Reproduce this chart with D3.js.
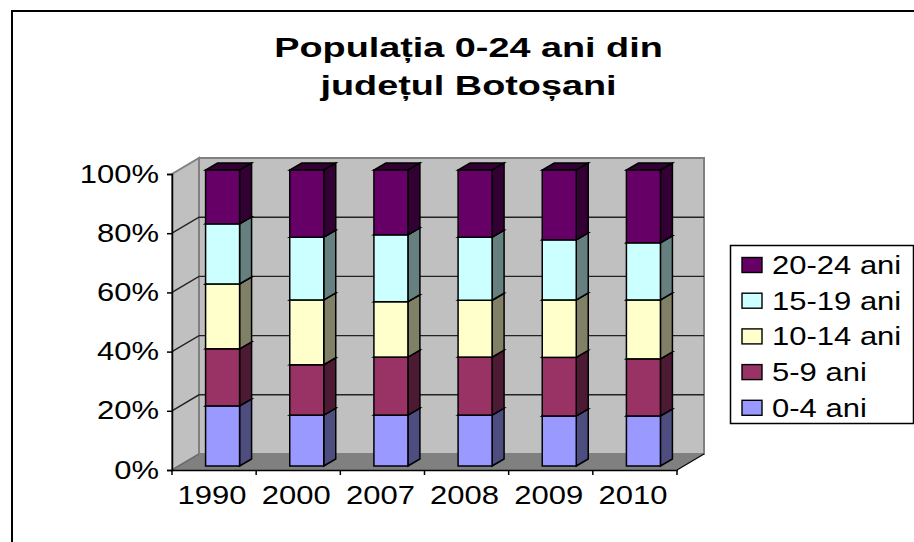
<!DOCTYPE html>
<html>
<head>
<meta charset="utf-8" />
<title>Populatia 0-24 ani</title>
<style>
  html, body { margin: 0; padding: 0; background: #fff; }
  svg { display: block; }
  text { font-family: "Liberation Sans", Arial, sans-serif; fill: #000; }
</style>
</head>
<body>
<div id="wrapper"></div>
<script src="https://d3js.org/d3.v7.min.js"></script>
<script>
const width = 914
const height = 542

const years = ["1990", "2000", "2007", "2008", "2009", "2010"]
const seriesNames = ["0-4 ani", "5-9 ani", "10-14 ani", "15-19 ani", "20-24 ani"]
const seriesColors = ["#9999ff", "#993366", "#ffffcc", "#ccffff", "#660066"]
const sideColors = ["#4d4d80", "#4d1a33", "#808066", "#668080", "#330033"]
const titleLines = ["Populația 0-24 ani din", "județul Botoșani"]
const percentTicks = [0, 20, 40, 60, 80, 100]

// share of each age group
const age0_4 = [20.3, 17.2, 17.2, 17.2, 16.9, 16.9]
const age5_9 = [19.3, 17.0, 19.6, 19.6, 19.8, 19.3]
const age10_14 = [21.9, 21.9, 18.7, 19.2, 19.4, 19.9]
const age15_19 = [20.3, 21.2, 22.6, 21.3, 20.3, 19.3]
const age20_24 = [18.2, 22.7, 21.9, 22.7, 23.6, 24.6]
const allSeries = [age0_4, age5_9, age10_14, age15_19, age20_24]

const table = years.map((y, i) => {
  const row = { year: y }
  seriesNames.forEach((s, j) => { row[s] = allSeries[j][i] })
  return row
})

const svg = d3.select("#wrapper").append("svg")
  .attr("width", width)
  .attr("height", height)

// the source picture is stretched sideways, so the text is too
const textStretch = 1.24
const textSize = 25

// outer chart frame, open at the right and bottom like the crop
svg.append("path")
  .attr("d", "M12,542V11H914")
  .attr("fill", "none")
  .attr("stroke", "#000")
  .attr("stroke-width", 2)

const title = svg.append("text")
  .attr("transform", "translate(468.5,0) scale(1.35,1)")
  .attr("text-anchor", "middle")
  .attr("font-weight", "bold")
  .attr("font-size", 28)
titleLines.forEach((t, i) => {
  title.append("tspan").attr("x", 0).attr("y", 57 + i * 38).text(t)
})

// plot geometry
const x = d3.scaleBand().domain(years).range([172, 677])
const y = d3.scaleLinear().domain([0, 100]).range([470, 174])
const wallDx = 27, wallDy = -16   // depth of the walls
const barDx = 12, barDy = -7      // depth of the bars
const barShiftX = 8.5, barShiftY = -4
const barWidth = 34

const poly = pts => pts.map(p => p.join(",")).join(" ")
const x0 = x.range()[0], x1 = x.range()[1]
const y0 = y(0), y100 = y(100)

// left wall, back wall and floor
svg.append("polygon")
  .attr("points", poly([[x0, y0], [x0 + wallDx, y0 + wallDy], [x0 + wallDx, y100 + wallDy], [x0, y100]]))
  .attr("fill", "#c0c0c0").attr("stroke", "#808080").attr("stroke-width", 2)
svg.append("polygon")
  .attr("points", poly([[x0 + wallDx, y0 + wallDy], [x1 + wallDx, y0 + wallDy], [x1 + wallDx, y100 + wallDy], [x0 + wallDx, y100 + wallDy]]))
  .attr("fill", "#c0c0c0").attr("stroke", "#808080").attr("stroke-width", 2)
svg.append("polygon")
  .attr("points", poly([[x0, y0], [x1, y0], [x1 + wallDx, y0 + wallDy], [x0 + wallDx, y0 + wallDy]]))
  .attr("fill", "#808080")

// gridlines run along the left wall then across the back
svg.append("g").selectAll("path")
  .data(percentTicks.slice(1, -1))
  .join("path")
  .attr("d", d => `M${x0},${y(d)}L${x0 + wallDx},${y(d) + wallDy}H${x1 + wallDx}`)
  .attr("fill", "none")
  .attr("stroke", "#222")
  .attr("stroke-width", 1.4)

// edges of the floor
svg.append("path")
  .attr("d", `M${x0},${y0}L${x0 + wallDx},${y0 + wallDy}`)
  .attr("stroke", "#666").attr("stroke-width", 1.2)
svg.append("path")
  .attr("d", `M${x1},${y0}L${x1 + wallDx},${y0 + wallDy}`)
  .attr("stroke", "#000").attr("stroke-width", 1.2)

// stacked bars
const stack = d3.stack().keys(seriesNames)
const layers = stack(table)

const barGroups = svg.append("g").selectAll("g")
  .data(layers)
  .join("g")

barGroups.each(function (layer, j) {
  const g = d3.select(this)
  layer.forEach(seg => {
    const left = x(seg.data.year) + x.bandwidth() / 2 - barWidth / 2 + barShiftX
    const right = left + barWidth
    const bottom = y(seg[0]) + barShiftY
    const top = y(seg[1]) + barShiftY

    g.append("polygon")
      .attr("points", poly([[right, bottom], [right + barDx, bottom + barDy], [right + barDx, top + barDy], [right, top]]))
      .attr("fill", sideColors[j]).attr("stroke", "#000").attr("stroke-width", 1.5)
    g.append("polygon")
      .attr("points", poly([[left, top], [right, top], [right + barDx, top + barDy], [left + barDx, top + barDy]]))
      .attr("fill", sideColors[j]).attr("stroke", "#000").attr("stroke-width", 1.5)
    g.append("rect")
      .attr("x", left).attr("y", top)
      .attr("width", barWidth).attr("height", bottom - top)
      .attr("fill", seriesColors[j]).attr("stroke", "#000").attr("stroke-width", 1.5)
  })
})

// axes
const yAxis = d3.axisLeft(y).tickValues(percentTicks).tickFormat(d => d + "%").tickSize(5)
const yG = svg.append("g").attr("transform", `translate(${x0},0)`).call(yAxis)
yG.selectAll("text")
  .attr("font-size", textSize)
  .attr("x", -13 / textStretch)
  .attr("transform", `scale(${textStretch},1)`)
  .style("font-family", '"Liberation Sans", Arial, sans-serif')
yG.selectAll("line, path").attr("stroke", "#000").attr("stroke-width", 1.5)

const xAxis = d3.axisBottom(x).tickSize(0).tickPadding(16)
const xG = svg.append("g").attr("transform", `translate(0,${y0})`).call(xAxis)
xG.selectAll("text")
  .attr("font-size", textSize)
  .attr("transform", `translate(-2,0) scale(${textStretch},1)`)
  .style("font-family", '"Liberation Sans", Arial, sans-serif')
xG.select("path").attr("stroke", "#000").attr("stroke-width", 1.5)
xG.selectAll("line").remove()
xG.selectAll("line.sep")
  .data(d3.range(years.length + 1))
  .join("line")
  .attr("class", "sep")
  .attr("x1", d => x0 + d * x.step()).attr("x2", d => x0 + d * x.step())
  .attr("y1", 0).attr("y2", 5)
  .attr("stroke", "#000").attr("stroke-width", 1.5)

// legend
const legend = svg.append("g")
legend.append("rect")
  .attr("x", 730.5).attr("y", 245.5).attr("width", 183).attr("height", 178)
  .attr("fill", "#fff").attr("stroke", "#000").attr("stroke-width", 1.5)
const legendRows = legend.selectAll("g")
  .data(seriesNames.map((s, i) => i).reverse())
  .join("g")
  .attr("transform", (d, i) => `translate(0,${265 + i * 35.7})`)
legendRows.append("rect")
  .attr("x", 742).attr("y", -7.5).attr("width", 20).attr("height", 15)
  .attr("fill", d => seriesColors[d]).attr("stroke", "#000").attr("stroke-width", 1.4)
legendRows.append("text")
  .attr("transform", `translate(772,9) scale(${textStretch},1)`)
  .attr("font-size", textSize)
  .text(d => seriesNames[d])
</script>
</body>
</html>
